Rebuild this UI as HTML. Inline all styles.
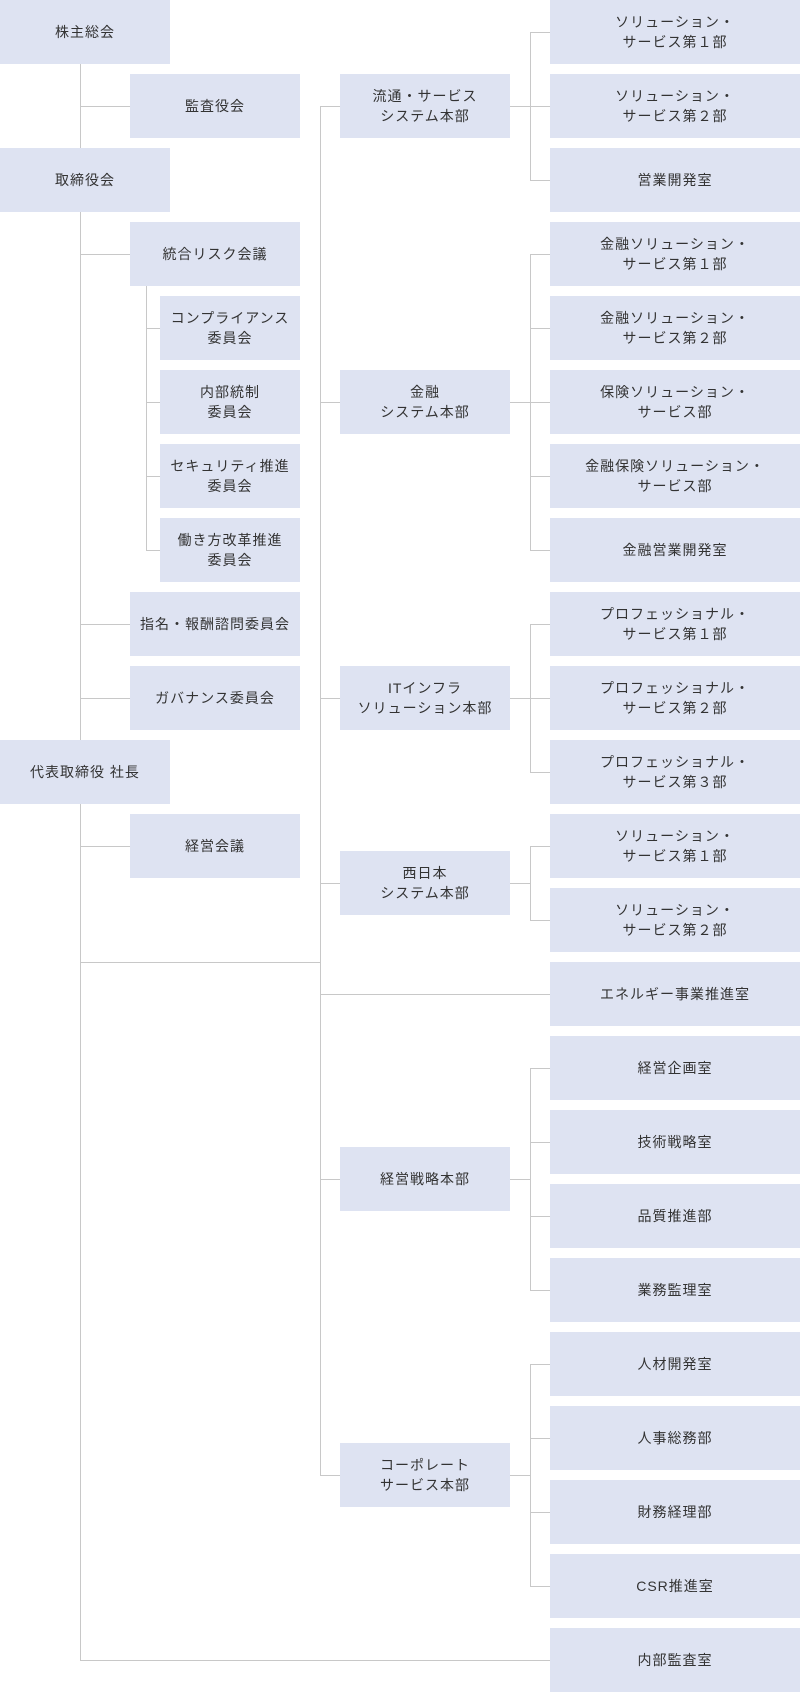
<!DOCTYPE html>
<html><head><meta charset="utf-8"><style>
body{margin:0;width:800px;height:1690px;position:relative;background:#fff;overflow:hidden;font-family:"Liberation Sans","Noto Sans CJK JP",sans-serif;}
.b{position:absolute;height:64px;background:#dee3f2;color:#333;font-size:14px;line-height:20px;display:flex;align-items:center;justify-content:center;text-align:center;letter-spacing:1px;}
.h,.v{position:absolute;background:#c8c8c8;}
.h{height:1px}.v{width:1px}
</style></head><body>
<!-- lines -->
<div class="v" style="left:80px;top:64px;height:1597px"></div>
<div class="h" style="left:80px;top:106px;width:50px"></div>
<div class="h" style="left:80px;top:254px;width:50px"></div>
<div class="h" style="left:80px;top:624px;width:50px"></div>
<div class="h" style="left:80px;top:698px;width:50px"></div>
<div class="h" style="left:80px;top:846px;width:50px"></div>
<div class="h" style="left:80px;top:962px;width:240px"></div>
<div class="h" style="left:80px;top:1660px;width:470px"></div>
<div class="v" style="left:146px;top:276px;height:275px"></div>
<div class="h" style="left:146px;top:328px;width:14px"></div>
<div class="h" style="left:146px;top:402px;width:14px"></div>
<div class="h" style="left:146px;top:476px;width:14px"></div>
<div class="h" style="left:146px;top:550px;width:14px"></div>
<div class="v" style="left:320px;top:106px;height:1370px"></div>
<div class="h" style="left:320px;top:106px;width:20px"></div>
<div class="h" style="left:320px;top:402px;width:20px"></div>
<div class="h" style="left:320px;top:698px;width:20px"></div>
<div class="h" style="left:320px;top:883px;width:20px"></div>
<div class="h" style="left:320px;top:994px;width:230px"></div>
<div class="h" style="left:320px;top:1179px;width:20px"></div>
<div class="h" style="left:320px;top:1475px;width:20px"></div>
<!-- col3 groups -->
<div class="h" style="left:510px;top:106px;width:20px"></div>
<div class="v" style="left:530px;top:32px;height:149px"></div>
<div class="h" style="left:510px;top:402px;width:20px"></div>
<div class="v" style="left:530px;top:254px;height:297px"></div>
<div class="h" style="left:510px;top:698px;width:20px"></div>
<div class="v" style="left:530px;top:624px;height:149px"></div>
<div class="h" style="left:510px;top:883px;width:20px"></div>
<div class="v" style="left:530px;top:846px;height:75px"></div>
<div class="h" style="left:510px;top:1179px;width:20px"></div>
<div class="v" style="left:530px;top:1068px;height:223px"></div>
<div class="h" style="left:510px;top:1475px;width:20px"></div>
<div class="v" style="left:530px;top:1364px;height:223px"></div>
<div class="h" style="left:530px;top:32px;width:20px"></div>
<div class="h" style="left:530px;top:106px;width:20px"></div>
<div class="h" style="left:530px;top:180px;width:20px"></div>
<div class="h" style="left:530px;top:254px;width:20px"></div>
<div class="h" style="left:530px;top:328px;width:20px"></div>
<div class="h" style="left:530px;top:402px;width:20px"></div>
<div class="h" style="left:530px;top:476px;width:20px"></div>
<div class="h" style="left:530px;top:550px;width:20px"></div>
<div class="h" style="left:530px;top:624px;width:20px"></div>
<div class="h" style="left:530px;top:698px;width:20px"></div>
<div class="h" style="left:530px;top:772px;width:20px"></div>
<div class="h" style="left:530px;top:846px;width:20px"></div>
<div class="h" style="left:530px;top:920px;width:20px"></div>
<div class="h" style="left:530px;top:1068px;width:20px"></div>
<div class="h" style="left:530px;top:1142px;width:20px"></div>
<div class="h" style="left:530px;top:1216px;width:20px"></div>
<div class="h" style="left:530px;top:1290px;width:20px"></div>
<div class="h" style="left:530px;top:1364px;width:20px"></div>
<div class="h" style="left:530px;top:1438px;width:20px"></div>
<div class="h" style="left:530px;top:1512px;width:20px"></div>
<div class="h" style="left:530px;top:1586px;width:20px"></div>
<!-- col0 -->
<div class="b" style="left:0;top:0;width:170px">株主総会</div>
<div class="b" style="left:0;top:148px;width:170px">取締役会</div>
<div class="b" style="left:0;top:740px;width:170px">代表取締役 社長</div>
<!-- col1 -->
<div class="b" style="left:130px;top:74px;width:170px">監査役会</div>
<div class="b" style="left:130px;top:222px;width:170px">統合リスク会議</div>
<div class="b" style="left:160px;top:296px;width:140px">コンプライアンス<br>委員会</div>
<div class="b" style="left:160px;top:370px;width:140px">内部統制<br>委員会</div>
<div class="b" style="left:160px;top:444px;width:140px">セキュリティ推進<br>委員会</div>
<div class="b" style="left:160px;top:518px;width:140px">働き方改革推進<br>委員会</div>
<div class="b" style="left:130px;top:592px;width:170px">指名・報酬諮問委員会</div>
<div class="b" style="left:130px;top:666px;width:170px">ガバナンス委員会</div>
<div class="b" style="left:130px;top:814px;width:170px">経営会議</div>
<!-- col2 -->
<div class="b" style="left:340px;top:74px;width:170px">流通・サービス<br>システム本部</div>
<div class="b" style="left:340px;top:370px;width:170px">金融<br>システム本部</div>
<div class="b" style="left:340px;top:666px;width:170px">ITインフラ<br>ソリューション本部</div>
<div class="b" style="left:340px;top:851px;width:170px">西日本<br>システム本部</div>
<div class="b" style="left:340px;top:1147px;width:170px">経営戦略本部</div>
<div class="b" style="left:340px;top:1443px;width:170px">コーポレート<br>サービス本部</div>
<!-- col3 -->
<div class="b" style="left:550px;top:0;width:250px">ソリューション・<br>サービス第１部</div>
<div class="b" style="left:550px;top:74px;width:250px">ソリューション・<br>サービス第２部</div>
<div class="b" style="left:550px;top:148px;width:250px">営業開発室</div>
<div class="b" style="left:550px;top:222px;width:250px">金融ソリューション・<br>サービス第１部</div>
<div class="b" style="left:550px;top:296px;width:250px">金融ソリューション・<br>サービス第２部</div>
<div class="b" style="left:550px;top:370px;width:250px">保険ソリューション・<br>サービス部</div>
<div class="b" style="left:550px;top:444px;width:250px">金融保険ソリューション・<br>サービス部</div>
<div class="b" style="left:550px;top:518px;width:250px">金融営業開発室</div>
<div class="b" style="left:550px;top:592px;width:250px">プロフェッショナル・<br>サービス第１部</div>
<div class="b" style="left:550px;top:666px;width:250px">プロフェッショナル・<br>サービス第２部</div>
<div class="b" style="left:550px;top:740px;width:250px">プロフェッショナル・<br>サービス第３部</div>
<div class="b" style="left:550px;top:814px;width:250px">ソリューション・<br>サービス第１部</div>
<div class="b" style="left:550px;top:888px;width:250px">ソリューション・<br>サービス第２部</div>
<div class="b" style="left:550px;top:962px;width:250px">エネルギー事業推進室</div>
<div class="b" style="left:550px;top:1036px;width:250px">経営企画室</div>
<div class="b" style="left:550px;top:1110px;width:250px">技術戦略室</div>
<div class="b" style="left:550px;top:1184px;width:250px">品質推進部</div>
<div class="b" style="left:550px;top:1258px;width:250px">業務監理室</div>
<div class="b" style="left:550px;top:1332px;width:250px">人材開発室</div>
<div class="b" style="left:550px;top:1406px;width:250px">人事総務部</div>
<div class="b" style="left:550px;top:1480px;width:250px">財務経理部</div>
<div class="b" style="left:550px;top:1554px;width:250px">CSR推進室</div>
<div class="b" style="left:550px;top:1628px;width:250px">内部監査室</div>
</body></html>
